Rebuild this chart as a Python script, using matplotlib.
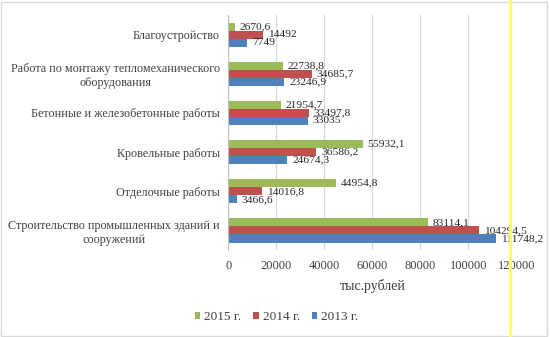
import matplotlib
matplotlib.use("Agg")
import matplotlib.pyplot as plt
import numpy as np

plt.rcParams['font.family'] = ['Liberation Serif', 'DejaVu Serif']

categories = [
    "Благоустройство",
    "Работа по монтажу тепломеханического\nоборудования",
    "Бетонные и железобетонные работы",
    "Кровельные работы",
    "Отделочные работы",
    "Строительство промышленных зданий и\nсооружений",
]
v2015 = [2670.6, 22738.8, 21954.7, 55932.1, 44954.8, 83114.1]
v2014 = [14492, 34685.7, 33497.8, 36586.2, 14016.8, 104294.5]
v2013 = [7749, 23246.9, 33035, 24674.3, 3466.6, 111748.2]
series = [("2015 г.", v2015, "#9BBB59"),
          ("2014 г.", v2014, "#C0504D"),
          ("2013 г.", v2013, "#4F81BD")]
x_ticks = [0, 20000, 40000, 60000, 80000, 100000, 120000]
x_title = "тыс.рублей"


def fmt(v):
    s = ("%.1f" % v).rstrip("0").rstrip(".")
    return s.replace(".", ",")


fig = plt.figure(figsize=(5.5, 3.37), dpi=100)
ax = fig.add_axes([0.415, 0.258, 0.5237, 0.6975])

n = len(categories)
ypos = np.arange(n)[::-1]  # first category on top
h = 0.205
for i, (name, vals, col) in enumerate(series):
    off = (1 - i) * h
    ax.barh(ypos + off, vals, height=h, color=col, label=name, zorder=3)
    for yb, v in zip(ypos + off, vals):
        ax.annotate(fmt(v), (v, yb), xytext=(3.6, 0), textcoords="offset points",
                    ha="left", va="center", fontsize=8.2, color="#262626", zorder=4)

ax.set_xlim(0, 120000)
ax.set_ylim(-0.5, n - 0.5)
ax.set_xticks(x_ticks)
ax.set_xticklabels([str(t) for t in x_ticks], fontsize=9, color="#404040")
ax.set_yticks(ypos)
ax.set_yticklabels(categories, fontsize=8.7, color="#404040", multialignment="center")
ax.tick_params(axis="both", length=0, pad=6)
ax.tick_params(axis="x", pad=7)
ax.grid(axis="x", color="#D9D9D9", linewidth=0.9, zorder=0)
for s in ["top", "right", "bottom"]:
    ax.spines[s].set_visible(False)
ax.spines["left"].set_color("#BFBFBF")
ax.spines["left"].set_zorder(5)
ax.set_xlabel(x_title, fontsize=10, color="#404040", labelpad=5)

leg = fig.legend(loc="center", bbox_to_anchor=(0.503, 0.058), ncol=3, frameon=False,
                 fontsize=9.5, handlelength=0.4, handleheight=0.4, handletextpad=0.3,
                 columnspacing=0.9)
for t in leg.get_texts():
    t.set_color("#404040")

# outer frame and a thin yellow marker line
fig.add_artist(plt.Rectangle((0.002, 0.004), 0.992, 0.99, transform=fig.transFigure,
                             fill=False, edgecolor="#D9D9D9", linewidth=1))
fig.add_artist(plt.Line2D([0.928, 0.928], [0, 1], transform=fig.transFigure,
                          color="#FFFF66", linewidth=2))

fig.savefig("out.png", dpi=100)
